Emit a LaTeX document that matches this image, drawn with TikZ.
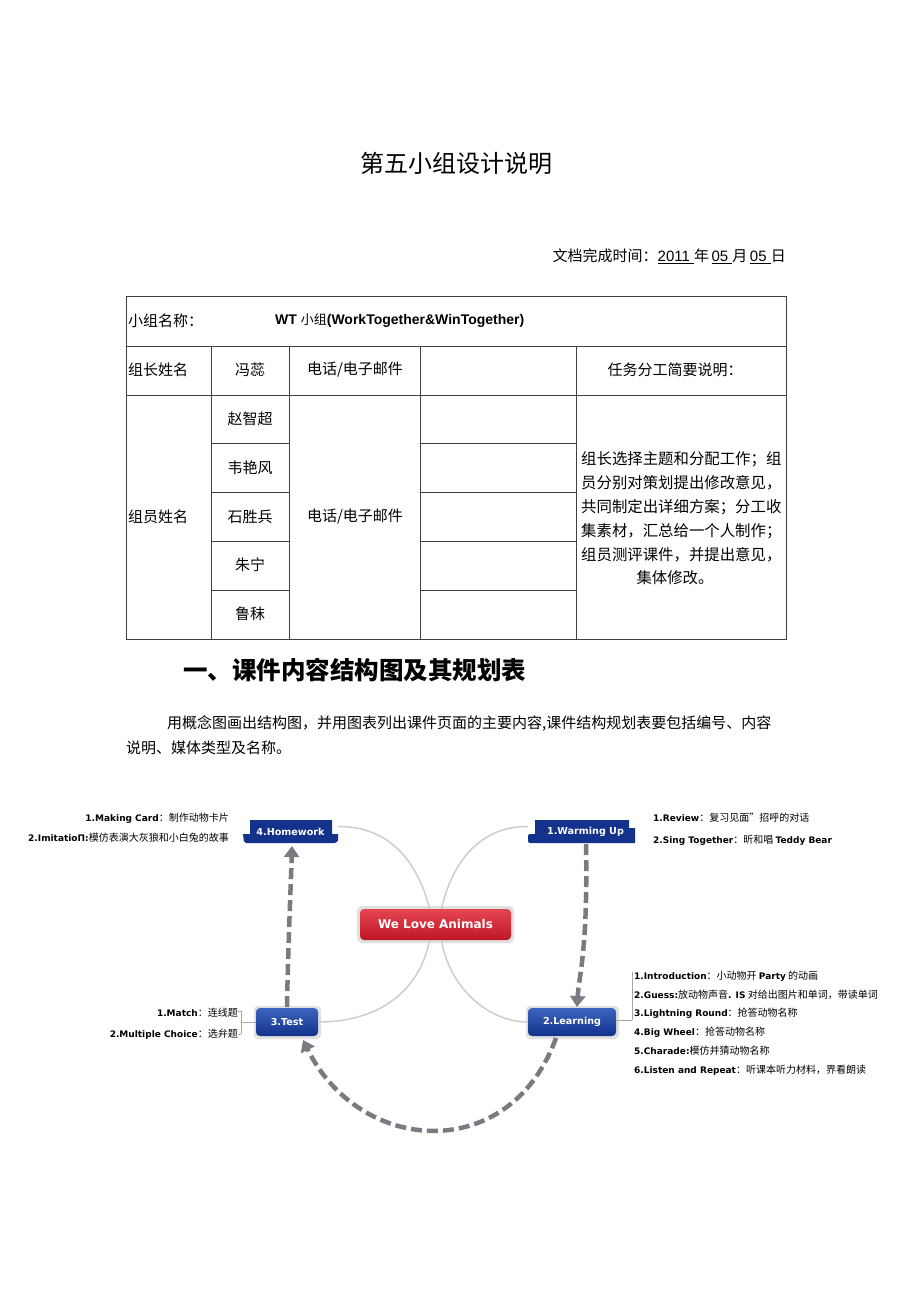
\documentclass[tikz,border=0pt]{standalone}
\usepackage{fontspec}
\setmainfont{Noto Sans CJK SC}
\newfontfamily\dvs{DejaVu Sans}
\newfontfamily\lib{Liberation Sans}
\usetikzlibrary{arrows.meta}
\definecolor{navy}{RGB}{18,50,140}
\definecolor{navyhi}{RGB}{60,100,190}
\definecolor{redhi}{RGB}{228,70,80}
\definecolor{redlo}{RGB}{190,22,38}
\definecolor{dash}{RGB}{125,120,130}
\definecolor{curve}{RGB}{205,205,210}
\newcommand\la[1]{{\dvs\bfseries\fontsize{9}{10}\selectfont #1}}
\newcommand\zh[1]{{\fontsize{10}{10}\selectfont #1}}
\tikzset{
  tb/.style={inner sep=0pt, font=\fontsize{15}{18}\selectfont},
  grid/.style={draw=black!75, line width=0.9pt},
  lab/.style={inner sep=0pt},
  boxtext/.style={inner sep=0pt, text=white, font=\dvs\bfseries\fontsize{9.6}{11}\selectfont},
  flow/.style={draw=dash, line width=4.5pt, dash pattern=on 11pt off 5pt, -{Triangle[width=15pt,length=11pt]}},
  link/.style={draw=curve, line width=1.5pt},
  brk/.style={draw=black!35, line width=0.6pt},
}
\begin{document}
\begin{tikzpicture}[x=1pt,y=-1pt]
\useasboundingbox[fill=white] (0,0) rectangle (920,1301);

% ---------- header ----------
\node[inner sep=0pt, font=\fontsize{24}{28}\selectfont] (title) at (456,163) {第五小组设计说明};
\node[tb, anchor=east] (date) at (786,256) {文档完成时间：\underline{\lib 2011\ }年\,\underline{\lib 05\ }月\,\underline{\lib 05\ }日};

% ---------- table ----------
\draw[grid] (126,296) rectangle (786,639);
\draw[grid] (126,346) -- (786,346);
\draw[grid] (126,395) -- (786,395);
\foreach \x in {211,289,420,576} \draw[grid] (\x,346) -- (\x,639);
\foreach \y in {443,492,541,590} {
  \draw[grid] (211,\y) -- (289,\y);
  \draw[grid] (420,\y) -- (576,\y);
}
\node[tb, anchor=west] (gname) at (128,321) {小组名称：};
\node[inner sep=0pt, anchor=west] (gval) at (275,321) {{\lib\bfseries\fontsize{14}{16}\selectfont WT }{\fontsize{13}{16}\selectfont 小组}{\lib\bfseries\fontsize{14}{16}\selectfont (WorkTogether\&WinTogether)}};
\node[tb, anchor=west] (leader) at (128,370) {组长姓名};
\node[tb] (lname) at (250,370) {冯蕊};
\node[tb] (lcontact) at (355,370) {电话/电子邮件};
\node[tb] (task) at (675,370) {任务分工简要说明：};
\node[tb, anchor=west] (members) at (128,517) {组员姓名};
\node[tb] (m1) at (250,419) {赵智超};
\node[tb] (m2) at (250,468) {韦艳风};
\node[tb] (m3) at (250,517) {石胜兵};
\node[tb] (m4) at (250,565) {朱宁};
\node[tb] (m5) at (250,614) {鲁秣};
\node[tb] (mcontact) at (355,517) {电话/电子邮件};
\begin{scope}[every node/.style={inner sep=0pt, font=\fontsize{15.4}{18}\selectfont}]
\node[anchor=west] (t1) at (581,459) {组长选择主题和分配工作；组};
\node[anchor=west] (t2) at (581,483) {员分别对策划提出修改意见，};
\node[anchor=west] (t3) at (581,507) {共同制定出详细方案；分工收};
\node[anchor=west] (t4) at (581,531) {集素材，汇总给一个人制作；};
\node[anchor=west] (t5) at (581,555) {组员测评课件，并提出意见，};
\node (t6) at (675,578) {集体修改。};
\end{scope}

% ---------- section ----------
\node[inner sep=0pt, anchor=west, font=\bfseries\fontsize{24.5}{28}\selectfont] (sec) at (183,670) {一、课件内容结构图及其规划表};
\node[tb, anchor=west] (p1) at (167,723) {用概念图画出结构图，并用图表列出课件页面的主要内容,课件结构规划表要包括编号、内容};
\node[tb, anchor=west] (p2) at (126,748) {说明、媒体类型及名称。};

% ---------- mind map shapes ----------
% 4.Homework banner
\fill[navy] (250,820) -- (332,820) -- (332,834) -- (338,834) -- (338,840) [rounded corners=2pt] -- (337,843) -- (244,843) [sharp corners] -- (243,834) -- (250,834) -- cycle;
% 1.Warming Up banner
\fill[navy] (535,820) -- (629,820) -- (629,828) -- (635,828) -- (635,843) [rounded corners=2pt] -- (528,843) -- (528,834) [sharp corners] -- (535,834) -- cycle;
% red centre
\fill[black!12, rounded corners=5pt] (357,906) rectangle (514,943);
\shade[top color=redhi, bottom color=redlo, rounded corners=4pt] (360,909) rectangle (511,940);
% 3.Test
\fill[black!12, rounded corners=4pt] (254,1006) rectangle (321,1039);
\shade[top color=navyhi, bottom color=navy, rounded corners=4pt] (256,1008) rectangle (318,1036);
% 2.Learning
\fill[black!12, rounded corners=4pt] (526,1006) rectangle (619,1039);
\shade[top color=navyhi, bottom color=navy, rounded corners=4pt] (528,1008) rectangle (616,1036);

% ---------- mind map nodes ----------
\node[boxtext, minimum width=95pt, minimum height=23pt] (hw) at (290.5,831.5) {4.Homework};
\node[boxtext, minimum width=107pt, minimum height=23pt] (wu) at (581.5,831.5) {\hspace*{8pt}1.Warming Up};
\node[inner sep=0pt, text=white, font=\dvs\bfseries\fontsize{12}{14}\selectfont, minimum width=151pt, minimum height=31pt] (wla) at (435.5,924.5) {We Love Animals};
\node[boxtext, minimum width=62pt, minimum height=28pt] (test) at (287,1022) {3.Test};
\node[boxtext, minimum width=88pt, minimum height=28pt] (lrn) at (572,1022) {2.Learning};

% ---------- links (thin curves) ----------
\draw[link] ([yshift=5pt]hw.east) .. controls (395,826) and (420,870) .. ([xshift=-6pt]wla.north);
\draw[link] ([yshift=5pt]wu.west) .. controls (475,826) and (450,870) .. ([xshift=6pt]wla.north);
\draw[link] ([xshift=-6pt]wla.south) .. controls (420,990) and (380,1022) .. (test.east);
\draw[link] ([xshift=6pt]wla.south) .. controls (450,990) and (490,1022) .. (lrn.west);

% ---------- flow arrows (dashed) ----------
\coordinate (wuB) at (586,844);
\coordinate (lrnT) at (577,1007);
\coordinate (testT) at (287,1007);
\coordinate (hwB) at (292,846);
\coordinate (lrnB) at (556,1038);
\coordinate (testB) at (303,1040);
\draw[flow] (wuB) .. controls (588,950) and (579,975) .. (lrnT);
\draw[flow] (testT) .. controls (288,950) and (291,880) .. (hwB);
\draw[flow] (lrnB) .. controls (510,1165) and (360,1155) .. (testB);

% ---------- brackets ----------
\coordinate (lb1) at (632,972);
\coordinate (lb2) at (632,1020);
\draw[brk] (lrn.east |- lb2) -- (lb2);
\draw[brk] (lb1) -- (lb2);
\coordinate (tb1) at (241,1011);
\coordinate (tb2) at (241,1034);
\draw[brk] (tb1) -- (tb2);
\draw[brk] (test.west) -- (test.west -| tb1);
\draw[brk] (tb1) -- ++(-3,0);
\draw[brk] (tb2) -- ++(-3,0);

% ---------- labels ----------
\node[lab, anchor=east] (hw1) at (229,818) {\la{1.Making Card}\zh{：制作动物卡片}};
\node[lab, anchor=east] (hw2) at (229,838) {\la{2.ImitatioΠ:}\zh{模仿表演大灰狼和小白兔的故事}};
\node[lab, anchor=west] (wu1) at (653,818) {\la{1.Review}\zh{：复习见面”招呼的对话}};
\node[lab, anchor=west] (wu2) at (653,840) {\la{2.Sing Together}\zh{：昕和唱 }\la{Teddy Bear}};
\node[lab, anchor=west] (l1) at (634,976) {\la{1.Introduction}\zh{：小动物开 }\la{Party}\zh{ 的动画}};
\node[lab, anchor=west] (l2) at (634,995) {\la{2.Guess:}\zh{放动物声音}\la{. IS}\zh{ 对给出图片和单词，带读单词}};
\node[lab, anchor=west] (l3) at (634,1013) {\la{3.Lightning Round}\zh{：抢答动物名称}};
\node[lab, anchor=west] (l4) at (634,1032) {\la{4.Big Wheel}\zh{：抢答动物名称}};
\node[lab, anchor=west] (l5) at (634,1051) {\la{5.Charade:}\zh{模仿并猜动物名称}};
\node[lab, anchor=west] (l6) at (634,1070) {\la{6.Listen and Repeat}\zh{：听课本听力材料，界看朗读}};
\node[lab, anchor=east] (t1l) at (238,1013) {\la{1.Match}\zh{：连线题}};
\node[lab, anchor=east] (t2l) at (238,1034) {\la{2.Multiple Choice}\zh{：选弁题}};
\end{tikzpicture}
\end{document}
